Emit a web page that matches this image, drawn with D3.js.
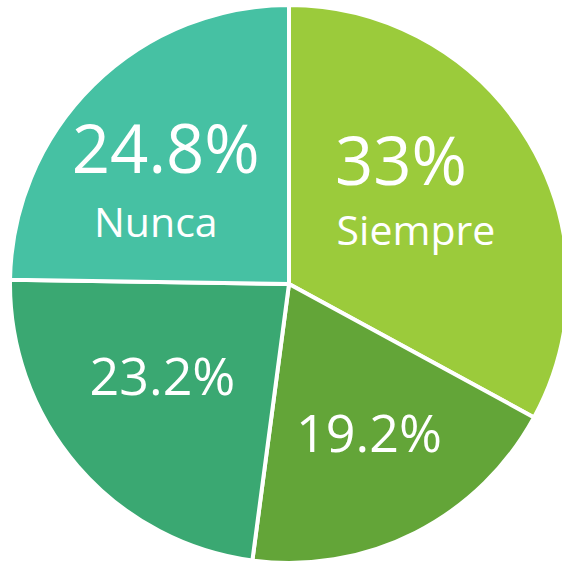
<!DOCTYPE html>
<html><head><meta charset="utf-8">
<script src="https://cdn.jsdelivr.net/npm/d3@7"></script>
<style>html,body{margin:0;padding:0;background:#fff;}svg{display:block;}</style>
</head><body>
<svg id="chart" width="562" height="562"></svg>
<script>
const categories = ["Siempre", "Casi siempre", "A veces", "Nunca"];
const values = [33, 19.2, 23.2, 24.8];
const valueLabels = ["33%", "19.2%", "23.2%", "24.8%"];
const shownNames = ["Siempre", "", "", "Nunca"];
const colors = ["#9BCB3B", "#63A538", "#3AA872", "#46C1A3"];

const svg = d3.select("#chart");
const cx = 289, cy = 284, R = 279;
const g = svg.append("g").attr("transform", `translate(${cx},${cy})`);

const pie = d3.pie().sort(null).value(d => d.v);
const data = categories.map((c, i) => ({c, v: values[i], i}));
const arcs = pie(data);
const arc = d3.arc().innerRadius(0).outerRadius(R);

g.selectAll("path").data(arcs).join("path")
  .attr("d", arc)
  .attr("fill", d => colors[d.data.i])
  .attr("stroke", "#fff")
  .attr("stroke-width", 4)
  .attr("stroke-linejoin", "round");

// label placement: centroid of a ring, then small nudges (like Excel "best fit")
const labelArc = d3.arc().innerRadius(150).outerRadius(150);
const valueNudge = [[-17, -22], [12, 34], [-13, 13], [-18, -4]];
const nameNudge = [[-2, 38], null, null, [-28, 60]];
const font = "Open Sans, Lato, sans-serif";
arcs.forEach(d => {
  const [x, y] = labelArc.centroid(d);
  const i = d.data.i;
  const hasName = shownNames[i] !== "";
  g.append("text")
    .attr("text-anchor", "middle")
    .attr("x", x + valueNudge[i][0])
    .attr("y", y + valueNudge[i][1])
    .attr("fill", "#fff")
    .style("font-family", font)
    .style("font-size", (hasName ? 67 : 52) + "px")
    .text(valueLabels[i]);
  if (hasName) {
    g.append("text")
      .attr("text-anchor", "middle")
      .attr("x", x + nameNudge[i][0])
      .attr("y", y + nameNudge[i][1])
      .attr("fill", "#fff")
      .style("font-family", font)
      .style("font-size", "41px")
      .text(shownNames[i]);
  }
});
</script>
</body></html>
